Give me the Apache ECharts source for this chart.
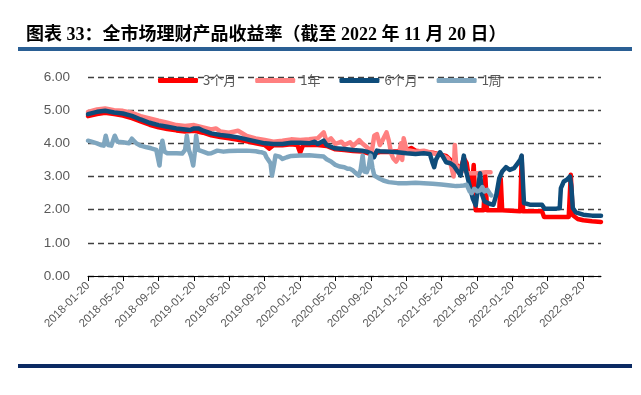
<!DOCTYPE html>
<html><head><meta charset="utf-8">
<script src="https://cdn.jsdelivr.net/npm/echarts@6/dist/echarts.min.js"></script>
<style>html,body{margin:0;padding:0;background:#fff}#c{width:641px;height:395px}</style>
</head><body><div id="c"></div>
<script>
const titleText = '图表 33：全市场理财产品收益率（截至 2022 年 11 月 20 日）';
const seriesNames = ['3个月', '1年', '6个月', '1周'];
const seriesColors = ['#FF0000', '#FF8080', '#0E4C7A', '#7FA6BF'];
const xTickDates = ['2018-01-20','2018-05-20','2018-09-20','2019-01-20','2019-05-20','2019-09-20','2020-01-20','2020-05-20','2020-09-20','2021-01-20','2021-05-20','2021-09-20','2022-01-20','2022-05-20','2022-09-20'];
const xMin = '2018-01-20', xMax = '2022-11-20';
const yTicks = [0, 1, 2, 3, 4, 5, 6];

// 3个月
const m3Dates = ['2018-01-20','2018-02-20','2018-03-20','2018-04-20','2018-05-20','2018-06-20','2018-07-20','2018-08-20','2018-09-20','2018-10-20','2018-11-20','2018-12-20','2019-01-20','2019-02-20','2019-03-20','2019-04-20','2019-05-20','2019-06-20','2019-07-20','2019-08-20','2019-09-20','2019-10-05','2019-10-20','2019-11-20','2019-12-20','2020-01-10','2020-01-20','2020-01-30','2020-02-20','2020-03-20','2020-04-20','2020-05-20','2020-06-20','2020-07-20','2020-08-20','2020-09-20','2020-10-20','2020-11-20','2020-12-20','2021-01-20','2021-02-05','2021-02-20','2021-03-20','2021-04-20','2021-05-20','2021-06-05','2021-06-20','2021-07-05','2021-07-25','2021-08-05','2021-08-15','2021-08-25','2021-09-01','2021-09-08','2021-09-15','2021-10-12','2021-10-18','2021-10-24','2021-12-05','2021-12-10','2021-12-15','2022-02-15','2022-02-20','2022-02-25','2022-05-01','2022-05-08','2022-08-01','2022-08-08','2022-08-15','2022-09-01','2022-09-20','2022-10-20','2022-11-20'];
const m3Values = [4.82,4.88,4.92,4.88,4.84,4.76,4.66,4.56,4.48,4.43,4.39,4.36,4.38,4.32,4.24,4.19,4.15,4.11,4.06,4.00,3.95,3.84,3.94,3.94,3.97,3.95,3.72,3.95,3.96,3.95,3.92,3.82,3.80,3.77,3.75,3.68,3.74,3.74,3.76,3.80,3.86,3.78,3.75,3.72,3.65,3.62,3.50,3.40,3.23,3.55,3.40,2.80,2.55,3.35,1.98,1.98,3.03,1.98,1.98,2.93,1.98,1.95,3.60,1.95,1.95,1.78,1.78,3.05,1.83,1.72,1.68,1.65,1.63];

// 1年
const y1Dates = ['2018-01-20','2018-02-20','2018-03-20','2018-04-20','2018-05-20','2018-06-20','2018-07-20','2018-08-20','2018-09-20','2018-10-20','2018-11-20','2018-12-20','2019-01-20','2019-02-20','2019-03-20','2019-04-05','2019-04-20','2019-05-20','2019-06-05','2019-06-20','2019-07-20','2019-08-20','2019-09-20','2019-10-20','2019-11-20','2019-12-20','2020-01-20','2020-02-20','2020-03-20','2020-04-10','2020-04-20','2020-05-05','2020-05-20','2020-06-10','2020-06-20','2020-07-10','2020-07-20','2020-08-10','2020-08-20','2020-09-10','2020-09-20','2020-10-01','2020-10-10','2020-10-20','2020-10-30','2020-11-05','2020-11-12','2020-11-20','2020-11-28','2020-12-05','2020-12-15','2020-12-22','2021-01-01','2021-01-05','2021-01-10','2021-01-20','2021-02-20','2021-03-20','2021-04-20','2021-05-20','2021-06-10','2021-06-20','2021-07-01','2021-07-05','2021-07-10','2021-07-25','2021-08-20','2021-09-20','2021-10-20','2021-11-05'];
const y1Values = [4.95,5.02,5.05,5.00,4.98,4.92,4.82,4.75,4.68,4.62,4.55,4.52,4.55,4.48,4.42,4.45,4.36,4.32,4.35,4.38,4.22,4.15,4.10,4.05,4.08,4.12,4.10,4.12,4.15,4.33,4.05,4.15,3.98,4.05,3.95,4.03,3.92,4.10,4.00,3.85,3.63,4.23,4.28,3.95,4.10,4.05,4.33,4.08,3.70,3.55,3.45,3.55,4.00,3.50,4.15,3.80,3.75,3.78,3.70,3.65,3.55,3.40,3.00,3.95,3.30,3.25,3.10,3.10,3.13,3.13];

// 6个月
const m6Dates = ['2018-01-20','2018-02-20','2018-03-20','2018-04-20','2018-05-20','2018-06-20','2018-07-20','2018-08-20','2018-09-20','2018-10-20','2018-11-20','2018-12-20','2019-01-05','2019-01-20','2019-02-05','2019-02-20','2019-03-20','2019-04-20','2019-05-20','2019-06-20','2019-07-20','2019-08-20','2019-09-20','2019-10-20','2019-11-20','2019-12-20','2020-01-20','2020-02-20','2020-03-10','2020-03-20','2020-04-10','2020-04-20','2020-05-10','2020-05-20','2020-06-20','2020-07-20','2020-08-20','2020-09-05','2020-09-20','2020-09-30','2020-10-10','2020-10-20','2020-11-20','2020-12-20','2021-01-20','2021-02-20','2021-03-20','2021-04-10','2021-04-20','2021-04-25','2021-05-01','2021-05-15','2021-05-25','2021-06-05','2021-06-20','2021-07-01','2021-07-15','2021-07-25','2021-08-05','2021-08-12','2021-08-20','2021-08-26','2021-09-05','2021-09-15','2021-09-22','2021-09-30','2021-10-07','2021-10-15','2021-11-01','2021-11-15','2021-11-25','2021-12-05','2021-12-15','2021-12-28','2022-01-10','2022-01-25','2022-02-05','2022-02-15','2022-02-20','2022-02-28','2022-03-20','2022-04-20','2022-05-01','2022-05-10','2022-06-20','2022-07-01','2022-07-05','2022-07-15','2022-07-25','2022-08-05','2022-08-10','2022-08-15','2022-08-25','2022-09-20','2022-10-20','2022-11-20'];
const m6Values = [4.88,4.95,4.98,4.93,4.90,4.83,4.72,4.62,4.55,4.50,4.45,4.42,4.40,4.45,4.45,4.38,4.30,4.25,4.22,4.18,4.12,4.06,4.00,3.98,3.98,4.02,4.02,4.00,4.05,3.98,4.08,3.95,3.88,3.85,3.83,3.80,3.78,3.75,3.70,3.58,3.78,3.76,3.75,3.73,3.70,3.68,3.70,3.68,3.40,3.28,3.50,3.73,3.60,3.43,3.40,3.33,3.15,3.03,3.63,3.20,2.90,2.85,2.33,2.13,2.60,3.10,2.45,2.25,2.18,2.15,2.45,2.95,3.15,3.28,3.20,3.25,3.38,3.50,3.63,2.20,2.15,2.15,2.15,2.03,2.03,2.05,2.65,2.85,2.90,3.00,2.70,2.05,1.92,1.85,1.82,1.82];

// 1周
const w1Dates = ['2018-01-20','2018-02-01','2018-02-20','2018-03-05','2018-03-15','2018-03-22','2018-03-30','2018-04-10','2018-04-22','2018-05-01','2018-05-20','2018-06-10','2018-06-20','2018-07-05','2018-07-20','2018-08-10','2018-08-25','2018-09-12','2018-09-23','2018-09-28','2018-10-03','2018-10-10','2018-10-20','2018-11-20','2018-12-10','2018-12-20','2018-12-26','2019-01-02','2019-01-10','2019-01-17','2019-01-22','2019-01-27','2019-02-03','2019-02-10','2019-02-20','2019-03-10','2019-03-20','2019-04-10','2019-05-01','2019-05-20','2019-06-20','2019-07-20','2019-08-20','2019-09-01','2019-09-10','2019-09-20','2019-09-26','2019-10-10','2019-10-15','2019-10-22','2019-10-27','2019-11-10','2019-11-20','2019-12-05','2019-12-20','2020-01-20','2020-02-20','2020-03-20','2020-04-10','2020-04-20','2020-05-05','2020-05-20','2020-06-05','2020-06-20','2020-07-01','2020-07-10','2020-07-20','2020-08-01','2020-08-08','2020-08-15','2020-08-22','2020-08-28','2020-09-05','2020-09-12','2020-09-18','2020-09-25','2020-10-01','2020-10-20','2020-11-01','2020-11-20','2020-12-20','2021-01-20','2021-02-20','2021-03-20','2021-04-20','2021-05-20','2021-06-20','2021-07-10','2021-07-25','2021-08-05','2021-08-15','2021-08-25','2021-09-01','2021-09-10','2021-09-20','2021-09-30','2021-10-08','2021-10-15','2021-10-25','2021-11-05','2021-11-08'];
const w1Values = [4.08,4.05,4.00,3.95,3.93,4.23,3.95,3.93,4.23,4.05,4.03,4.00,4.14,4.00,3.93,3.88,3.85,3.80,3.33,3.80,4.08,3.75,3.70,3.70,3.69,3.80,4.23,3.80,3.60,3.33,3.70,4.23,3.80,3.78,3.75,3.69,3.70,3.78,3.75,3.77,3.78,3.78,3.76,3.74,3.73,3.70,3.58,3.40,3.03,3.35,3.63,3.60,3.53,3.58,3.62,3.63,3.64,3.62,3.60,3.52,3.45,3.35,3.30,3.28,3.23,3.23,3.18,3.08,3.03,3.20,3.63,3.15,3.13,3.30,3.63,3.25,3.03,2.93,2.88,2.83,2.80,2.80,2.81,2.80,2.78,2.76,2.73,2.71,2.72,2.73,2.75,2.55,2.50,2.63,2.55,2.58,2.68,2.55,2.60,2.45,2.43];

function ts(s) { const p = s.split('-').map(Number); return new Date(p[0], p[1] - 1, p[2]).getTime(); }
function pairs(d, v) { return d.map((x, i) => [ts(x), v[i]]); }
const allDates = [m3Dates, y1Dates, m6Dates, w1Dates];
const allValues = [m3Values, y1Values, m6Values, w1Values];
const tickTs = xTickDates.map(ts);
function fmtDate(v) { const d = new Date(v); const p = n => (n < 10 ? '0' : '') + n; return d.getFullYear() + '-' + p(d.getMonth() + 1) + '-' + p(d.getDate()); }

const chart = echarts.init(document.getElementById('c'), null, { renderer: 'canvas' });
chart.setOption({
  animation: false,
  backgroundColor: '#fff',
  title: {
    text: titleText, left: 21, top: 21,
    textStyle: { fontSize: 18, fontWeight: 'bold', color: '#000', fontFamily: "'Liberation Serif','Noto Sans CJK SC',serif" }
  },
  graphic: [
    { type: 'rect', shape: { x: 18, y: 47, width: 614, height: 4 }, style: { fill: '#2A5F94' } },
    { type: 'rect', shape: { x: 18, y: 364, width: 614, height: 4 }, style: { fill: '#0B2A63' } }
  ],
  legend: {
    data: seriesNames, left: 153, top: 69, itemWidth: 40, itemHeight: 5, itemGap: 19, icon: 'roundRect',
    textStyle: { fontSize: 13, color: '#595959', fontFamily: "'Noto Sans CJK SC',sans-serif" }
  },
  grid: { left: 88, right: 40, top: 77, bottom: 119, containLabel: false },
  xAxis: {
    type: 'value', min: ts(xMin), max: ts(xMax), scale: true,
    axisLine: { show: true, onZero: false, lineStyle: { color: '#000', width: 1 } },
    axisTick: { show: true, customValues: tickTs, length: 5, lineStyle: { color: '#000' } },
    splitLine: { show: false },
    axisLabel: {
      customValues: tickTs, rotate: 45, fontSize: 11.5, color: '#595959', margin: 8,
      fontFamily: "'Liberation Sans',Arial,sans-serif", formatter: fmtDate
    }
  },
  yAxis: {
    type: 'value', min: yTicks[0], max: yTicks[yTicks.length - 1], interval: 1,
    axisLine: { show: false }, axisTick: { show: false },
    splitLine: { show: true, lineStyle: { color: '#404040', type: [6, 4], width: 1.3 } },
    axisLabel: { fontSize: 13.5, color: '#595959', margin: 18, fontFamily: "'Liberation Sans',Arial,sans-serif", formatter: v => v.toFixed(2) }
  },
  series: seriesNames.map((n, i) => ({
    name: n, type: 'line', showSymbol: false, symbol: 'none',
    data: pairs(allDates[i], allValues[i]),
    color: seriesColors[i],
    lineStyle: { color: seriesColors[i], width: 4.5, join: 'round', cap: 'round' },
    z: 2 + i
  }))
});
</script></body></html>
